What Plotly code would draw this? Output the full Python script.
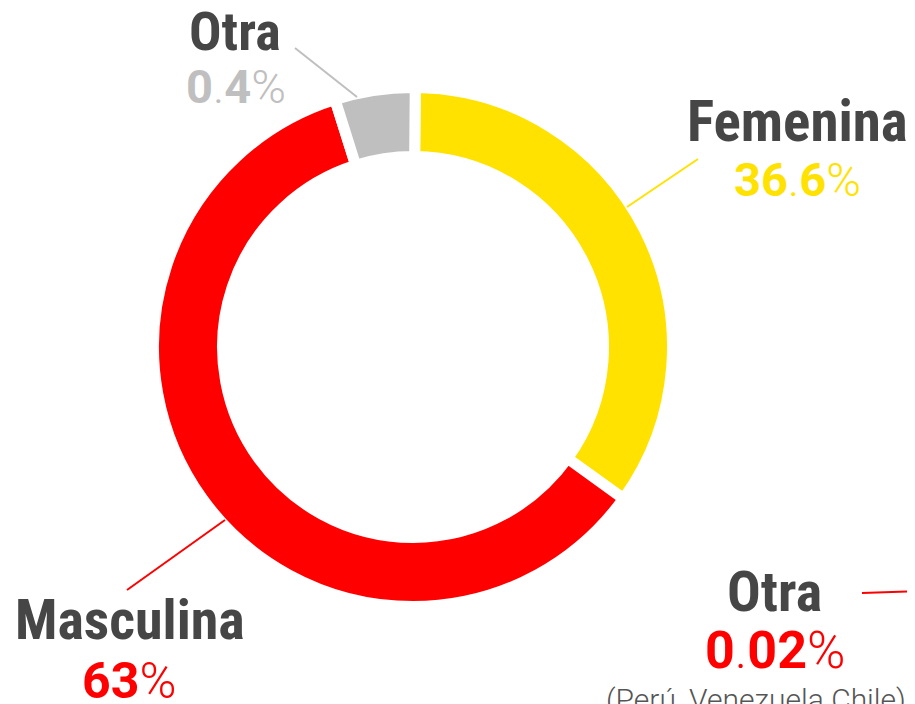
import plotly.graph_objects as go

W, H = 915, 704
PAGE_OFFSET = 8  # default body margin of the html page

# ---- data ----
categories = ["Femenina", "Masculina", "Otra"]
label_values = ["36.6", "63", "0.4"]          # percentages printed on the chart
drawn_shares = [34.8, 60.2, 5.0]              # slice sizes as drawn in the picture
colors = ["#FFE200", "#FF0000", "#BFBFBF"]
extra_label = "Otra"
extra_value = "0.02"
extra_note = "(Perú, Venezuela Chile)"

TITLE_COLOR = "#464646"
FONT = "Liberation Sans Narrow, Roboto Condensed, Arial Narrow, Roboto, sans-serif"
NUMFONT = "Roboto, Liberation Sans, sans-serif"


def px(x):
    return (x - PAGE_OFFSET) / W


def py(y):
    return 1 - (y - PAGE_OFFSET) / H


def pct(v):
    parts = v.split(".")
    if len(parts) == 2:
        return "<b>%s</b>.<b>%s</b>%%" % (parts[0], parts[1])
    return "<b>%s</b>%%" % parts[0]


# pie geometry (pixels on screen)
cx, cy, R = 413, 347, 259.5

fig = go.Figure(go.Pie(
    labels=categories,
    values=drawn_shares,
    marker=dict(colors=colors, line=dict(color="white", width=11)),
    hole=0.734,
    sort=False,
    direction="clockwise",
    rotation=0.5,
    textinfo="none",
    hoverinfo="label",
    showlegend=False,
    domain=dict(x=[px(cx - R), px(cx + R)], y=[py(cy + R), py(cy - R)]),
))

ann = []


def add_title(text, x, y, size=56):
    ann.append(dict(text="<b>%s</b>" % text, x=px(x), y=py(y), xref="paper", yref="paper",
                    xanchor="center", yanchor="middle", showarrow=False,
                    font=dict(family=FONT, size=size, color=TITLE_COLOR)))


def add_pct(v, color, x, y, size=47):
    ann.append(dict(text=pct(v), x=px(x), y=py(y), xref="paper", yref="paper",
                    xanchor="center", yanchor="middle", showarrow=False,
                    font=dict(family=NUMFONT, size=size, color=color, weight=300)))


# Otra (top)
add_title(categories[2], 235, 32, size=54)
add_pct(label_values[2], colors[2], 236, 87)
# Femenina
add_title(categories[0], 797, 122, size=57)
add_pct(label_values[0], colors[0], 797, 179)
# Masculina
add_title(categories[1], 130, 620)
add_pct(label_values[1], colors[1], 129, 681, size=50)
# Otra (bottom right)
add_title(extra_label, 774, 592)
add_pct(extra_value, colors[1], 775, 650, size=52)
ann.append(dict(text=extra_note, x=px(756), y=py(680), xref="paper", yref="paper",
                xanchor="center", yanchor="top", showarrow=False,
                font=dict(family=NUMFONT, size=30, color="#555555", weight=300)))

# leader lines
lines = [
    ((295, 48), (357, 97), colors[2]),
    ((698, 159), (627, 207), colors[0]),
    ((127, 590), (225, 520), colors[1]),
    ((862, 593), (923, 591), colors[1]),
]
shapes = [dict(type="line", xref="paper", yref="paper",
               x0=px(a[0]), y0=py(a[1]), x1=px(b[0]), y1=py(b[1]),
               line=dict(color=c, width=2)) for a, b, c in lines]

fig.update_layout(
    width=W, height=H,
    margin=dict(l=0, r=0, t=0, b=0),
    paper_bgcolor="white", plot_bgcolor="white",
    annotations=ann, shapes=shapes,
)

fig.write_html("out.html")
